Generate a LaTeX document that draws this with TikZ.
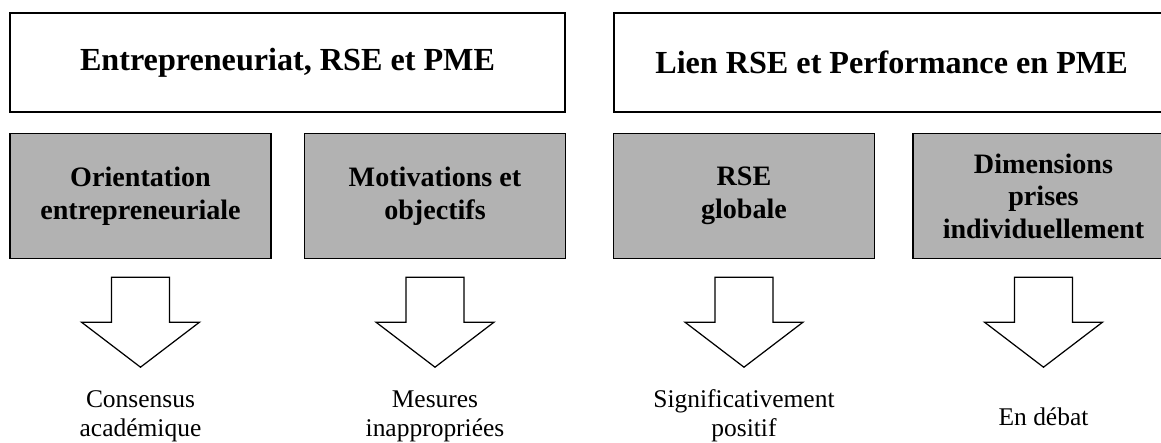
\documentclass[tikz,border=0pt]{standalone}
\usepackage{fontspec}
\setmainfont{Liberation Serif}
\usepackage{xcolor}
\usetikzlibrary{calc, positioning}
\definecolor{boxgray}{RGB}{178,178,178}

\begin{document}
\begin{tikzpicture}[x=0.02cm,y=0.02cm,
                    head node/.style={rectangle,draw,line width=0.8pt,minimum width=11.1cm,minimum height=1.98cm,font=\fontsize{18.3}{21}\selectfont\bfseries},
                    sub node/.style={rectangle,draw,line width=0.8pt,fill=boxgray,minimum width=5.22cm,minimum height=2.5cm,align=center,font=\fontsize{16}{18.5}\selectfont\bfseries},
                    result node/.style={align=center,font=\fontsize{14.5}{16.5}\selectfont},
                    block arrow/.style={draw,line width=0.7pt,fill=white,line join=miter}]

  \useasboundingbox (0,0) rectangle (1161,443);

  \node[head node] (1) at (287.5,380.5) {Entrepreneuriat, RSE et PME};
  \node[head node] (2) at (891.5,380.5) {Lien RSE et Performance en PME};

  \node[sub node] (3) at (140.5,247) {Orientation\\entrepreneuriale};
  \node[sub node] (4) at (435,247) {Motivations et\\objectifs};
  \node[sub node] (5) at (744,247) {RSE\\globale};
  \node[sub node] (6) at (1043.5,247) {Dimensions\\prises\\individuellement};

  \node[result node] (7) at (140.5,27) {Consensus\\académique};
  \node[result node] (8) at (435,27) {Mesures\\inappropriées};
  \node[result node] (9) at (744,27) {Significativement\\positif};
  \node[result node] (10) at (1043.5,26) {En débat};

  % block arrows under the grey boxes
  \foreach \n in {3,4,5,6}
    \draw[block arrow] ($(\n.south)+(-29,-18)$) -- ++(58,0) -- ++(0,-45) -- ++(30,0)
      -- ++(-59,-45) -- ++(-59,45) -- ++(30,0) -- cycle;

\end{tikzpicture}
\end{document}
